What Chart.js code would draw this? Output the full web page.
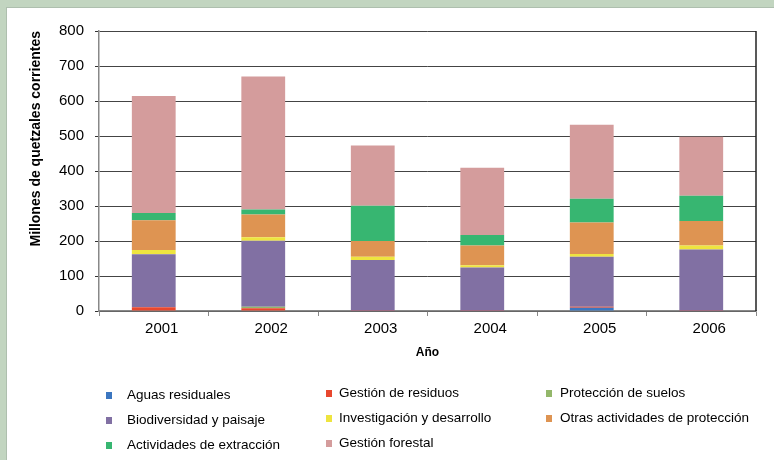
<!DOCTYPE html>
<html>
<head>
<meta charset="utf-8">
<script src="https://cdn.jsdelivr.net/npm/chart.js@4"></script>
<style>
    body { margin: 0; width: 774px; height: 460px; background: #c2d5c0; overflow: hidden; font-family: "Liberation Sans", Arial, sans-serif; position: relative; }
    #panel { position: absolute; left: 6px; top: 7px; right: 0; bottom: 0; background: #fff; border-left: 1px solid #aebfae; border-top: 1px solid #aebfae; }
    #chart { position: absolute; left: 0; top: 0; }
    .leg-item { position: absolute; font-size: 13.5px; line-height: 16px; color: #000; white-space: nowrap; }
    .leg-box { position: absolute; width: 6px; height: 7px; }
</style>
</head>
<body>
<div id="panel"></div>
<canvas id="chart" width="774" height="460"></canvas>
<div id="legend"></div>
<script>
var years = ['2001', '2002', '2003', '2004', '2005', '2006'];
var yTicks = [0, 100, 200, 300, 400, 500, 600, 700, 800];

var seriesNames = [
    'Aguas residuales', 'Gestión de residuos', 'Protección de suelos',
    'Biodiversidad y paisaje', 'Investigación y desarrollo', 'Otras actividades de protección',
    'Actividades de extracción', 'Gestión forestal'
];
var seriesColors = ['#3b76c0', '#e8472e', '#93b76a', '#8170a3', '#eee43f', '#de9452', '#37b671', '#d49c9c'];

var aguasResiduales = [0, 0, 0, 0, 9, 0];
var gestionResiduos = [11, 8, 1, 1, 3, 1];
var proteccionSuelos = [0, 4, 0, 0, 0, 0];
var biodiversidad = [151, 189, 145, 123, 143, 175];
var investigacion = [12, 10, 9, 7, 8, 11];
var otrasActividades = [85, 65, 45, 56, 90, 70];
var extraccion = [21, 14, 101, 30, 68, 72];
var gestionForestal = [334, 380, 172, 192, 211, 169];

var seriesValues = [aguasResiduales, gestionResiduos, proteccionSuelos, biodiversidad,
    investigacion, otrasActividades, extraccion, gestionForestal];

document.addEventListener("DOMContentLoaded", function () {
    var font = '"Liberation Sans", Arial, sans-serif';

    // right edge of the plot frame
    var frameLine = {
        id: 'frameLine',
        afterDatasetsDraw: function (chart) {
            var a = chart.chartArea, ctx = chart.ctx;
            ctx.save();
            ctx.strokeStyle = '#222';
            ctx.lineWidth = 1.5;
            ctx.beginPath();
            ctx.moveTo(a.right, a.top);
            ctx.lineTo(a.right, a.bottom);
            ctx.stroke();
            ctx.restore();
        }
    };

    new Chart(document.getElementById('chart'), {
        type: 'bar',
        data: {
            labels: years,
            datasets: seriesNames.map(function (name, i) {
                return {
                    label: name,
                    data: seriesValues[i],
                    backgroundColor: seriesColors[i],
                    borderWidth: 0,
                    categoryPercentage: 1,
                    barPercentage: 0.4
                };
            })
        },
        options: {
            responsive: false,
            animation: false,
            layout: { padding: { left: 20, right: 18, top: 31, bottom: 89 } },
            plugins: { legend: { display: false }, tooltip: { enabled: false } },
            scales: {
                x: {
                    stacked: true,
                    grid: { drawOnChartArea: false, tickLength: 5, color: '#888' },
                    border: { color: '#888', width: 1.5 },
                    ticks: { color: '#000', font: { family: font, size: 15 }, padding: 4, labelOffset: 8 },
                    title: { display: true, text: 'Año', color: '#000', font: { family: font, size: 12, weight: 'bold' }, padding: { top: 0, bottom: 11 } },
                    afterFit: function (scale) { scale.height = 60; }
                },
                y: {
                    stacked: true,
                    min: 0,
                    max: 800,
                    afterBuildTicks: function (scale) {
                        scale.ticks = yTicks.map(function (v) { return { value: v }; });
                    },
                    grid: { color: '#444', lineWidth: 1, tickLength: 4, tickColor: '#333' },
                    border: { color: '#888', width: 1.5 },
                    ticks: { color: '#000', font: { family: font, size: 15 }, padding: 11 },
                    title: { display: true, text: 'Millones de quetzales corrientes', align: 'end', color: '#000', font: { family: font, size: 14, weight: 'bold' }, padding: { top: 8, bottom: 0 } },
                    afterFit: function (scale) { scale.width = 79; }
                }
            }
        },
        plugins: [frameLine]
    });

    // legend laid out in three columns, row by row
    var colBox = [106, 326, 546];
    var colText = [127, 339, 560];
    var rowY = [[395, 420, 445], [393, 418, 443], [393, 418, 443]];
    var legend = document.getElementById('legend');
    seriesNames.forEach(function (name, i) {
        var col = i % 3, row = Math.floor(i / 3);
        var cy = rowY[col][row];
        var box = document.createElement('div');
        box.className = 'leg-box';
        box.style.left = colBox[col] + 'px';
        box.style.top = (cy - 3) + 'px';
        box.style.background = seriesColors[i];
        legend.appendChild(box);
        var item = document.createElement('div');
        item.className = 'leg-item';
        item.style.left = colText[col] + 'px';
        item.style.top = (cy - 8) + 'px';
        item.textContent = name;
        legend.appendChild(item);
    });
});
</script>
</body>
</html>
